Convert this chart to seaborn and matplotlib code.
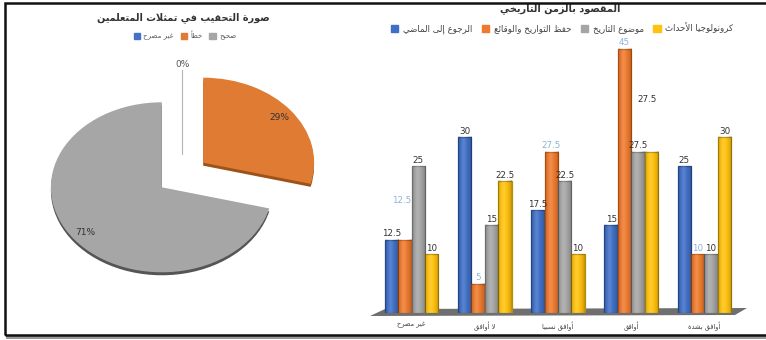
import unicodedata
import numpy as np
import pandas as pd
import matplotlib
matplotlib.use("Agg")
import matplotlib.pyplot as plt
from matplotlib.patches import Polygon, Rectangle, Patch
import seaborn as sns

# Pie data
pie_labels = ["غير مصرح", "خطأ", "صحيح"]
pie_values = [0, 29, 71]
pie_colors = ["#4472C4", "#E07B33", "#A6A6A6"]
pie_rim = ["#2F528F", "#9C5218", "#555555"]

# Bar data
categories = ["غير مصرح", "لا أوافق", "أوافق نسبيا", "أوافق", "أوافق بشدة"]
series_names = ["الرجوع إلى الماضي", "حفظ التواريخ والوقائع", "موضوع التاريخ", "كرونولوجيا الأحداث"]
past_values = [12.5, 30, 17.5, 15, 25]
facts_values = [12.5, 5, 27.5, 45, 10]
subject_values = [25, 15, 22.5, 27.5, 10]
chrono_values = [10, 22.5, 10, 27.5, 30]
bar_colors = ["#3F6FC6", "#EE7A2E", "#A5A5A5", "#FFC20E"]
bar_edges = ["#2A4F92", "#C25A12", "#7C7C7C", "#B58F0A"]
label_colors = ["#333333", "#8DB3D8", "#333333", "#333333"]

W, H = 766, 340
NON_JOINING = set("اأإآدذرزوةءى")
LAM_ALEF = {"ا": ("\uFEFB", "\uFEFC"), "أ": ("\uFEF7", "\uFEF8"),
            "إ": ("\uFEF9", "\uFEFA"), "آ": ("\uFEF5", "\uFEF6")}


def is_letter(ch):
    return ch is not None and "ARABIC LETTER" in unicodedata.name(ch, "")


def shape(text):
    """Join Arabic letters into presentation forms, in visual order."""
    out, i, prev_joins = [], 0, False
    while i < len(text):
        ch = text[i]
        if not is_letter(ch):
            out.append(ch)
            prev_joins = False
            i += 1
            continue
        nxt = text[i + 1] if i + 1 < len(text) else None
        if ch == "ل" and nxt in LAM_ALEF:
            out.append(LAM_ALEF[nxt][1 if prev_joins else 0])
            prev_joins = False
            i += 2
            continue
        joins_next = ch not in NON_JOINING and is_letter(nxt)
        form = {(True, True): " MEDIAL FORM", (True, False): " FINAL FORM",
                (False, True): " INITIAL FORM", (False, False): " ISOLATED FORM"}[(prev_joins, joins_next)]
        out.append(unicodedata.lookup(unicodedata.name(ch) + form))
        prev_joins = joins_next
        i += 1
    return "".join(reversed(out))


def fx(x):
    return x / W


def fy(y):
    return 1 - y / H


sns.set_theme(style="white")
plt.rcParams["font.family"] = ["DejaVu Sans"]
fig = plt.figure(figsize=(W / 100, H / 100), dpi=100, facecolor="white")

# Exploded, slightly flattened pie with a thin darker rim underneath
pie_ax = fig.add_axes([fx(5), fy(311), 355 / W, 272 / H])
explode = [0.236] * 3
rim_wedges, _ = pie_ax.pie(pie_values, explode=explode, colors=pie_rim, startangle=90,
                           counterclock=False, center=(0, -0.035), wedgeprops={"linewidth": 0})
wedges, _, pct_texts = pie_ax.pie(pie_values, explode=explode, colors=pie_colors, startangle=90,
                                  counterclock=False, autopct="%.0f%%", pctdistance=0.87,
                                  wedgeprops={"linewidth": 0},
                                  textprops={"fontsize": 6.5, "color": "#333333"})
rim_wedges[0].set_visible(False)
wedges[0].set(edgecolor="#B5B5B5", linewidth=0.8)
pct_texts[0].set_position((0, 1.3))
pct_texts[0].set_color("#555555")
pie_ax.set_aspect("auto")
pie_ax.set_xlim(-1.6, 1.6)
pie_ax.set_ylim(-1.6, 1.6)
pie_ax.patch.set_visible(False)

fig.text(fx(183), fy(18), shape("صورة التحقيب في تمثلات المتعلمين"), ha="center", va="center",
         fontsize=7, fontweight="bold", color="#333333")
fig.legend(handles=[Patch(color=c, label=shape(t)) for c, t in zip(pie_colors, pie_labels)],
           loc="center", bbox_to_anchor=(fx(185), fy(36)), ncol=3, frameon=False, fontsize=5,
           handlelength=0.9, handleheight=0.9, handletextpad=0.5, columnspacing=1.0,
           labelcolor="#555555")

# Grouped bars
bar_ax = fig.add_axes([fx(375), fy(313), 366 / W, 293.5 / H])
bar_ax.patch.set_visible(False)
table = pd.DataFrame({"category": [shape(c) for c in categories]})
for name, vals in zip(series_names, [past_values, facts_values, subject_values, chrono_values]):
    table[name] = vals
long_table = table.melt(id_vars="category", var_name="series", value_name="value")
sns.barplot(data=long_table, x="category", y="value", hue="series", palette=bar_colors,
            width=0.73, gap=0, saturation=1, legend=False, ax=bar_ax)
bar_ax.set_xlim(-0.5, 4.5)
bar_ax.set_ylim(0, 50)

# Rounded shading across each bar
shade = np.zeros((1, 32, 4))
t = np.linspace(0, 1, 32)
shade[0, :, 3] = np.clip(0.18 * np.abs(2 * t - 0.9) ** 2.2, 0, 0.22)
gloss = np.ones((1, 32, 4))
gloss[0, :, 3] = 0.14 * np.exp(-((t - 0.4) / 0.18) ** 2)
for s, container in enumerate(bar_ax.containers):
    for bar in container:
        bar.set(edgecolor=bar_edges[s], linewidth=0.9)
        box = (bar.get_x(), bar.get_x() + bar.get_width(), 0, bar.get_height())
        for layer in (shade, gloss):
            bar_ax.imshow(layer, extent=box, aspect="auto", zorder=3, interpolation="bilinear")
    bar_labels = bar_ax.bar_label(container, fmt="%g", padding=1, fontsize=6.3, color=label_colors[s], zorder=5)
    # Two labels sit well above their bars
    if s == 1:
        bar_labels[0].set_position((-2, 25))
    if s == 3:
        bar_labels[3].set_position((-3, 34))
bar_ax.set_xlim(-0.5, 4.5)
bar_ax.set_ylim(0, 50)
bar_ax.set_xlabel("")
bar_ax.set_ylabel("")
bar_ax.set_yticks([])
bar_ax.tick_params(axis="x", length=0, pad=6, labelsize=4.8, labelcolor="#444444")
sns.despine(ax=bar_ax, left=True, bottom=True)

fig.add_artist(Polygon([(fx(370), fy(316)), (fx(385), fy(309)), (fx(747), fy(308)), (fx(735), fy(315))],
                       closed=True, facecolor="#6F6F6F", edgecolor="none", zorder=-1, transform=fig.transFigure))

fig.text(fx(560), fy(9), shape("المقصود بالزمن التاريخي"), ha="center", va="center",
         fontsize=7, fontweight="bold", color="#333333")
fig.legend(handles=[Patch(color=c, label=shape(t)) for c, t in zip(bar_colors, series_names)],
           loc="center", bbox_to_anchor=(fx(562), fy(28)), ncol=4, frameon=False, fontsize=6.2,
           handlelength=0.9, handleheight=0.9, handletextpad=0.5, columnspacing=1.1,
           labelcolor="#444444")

# Black border running off the right side, with a soft shadow below it
fig.add_artist(Rectangle((fx(5), fy(335)), (W + 10) / W, 332 / H, fill=False, edgecolor="#111111",
                         linewidth=1.8, transform=fig.transFigure, zorder=6))
fig.add_artist(Rectangle((fx(6), fy(339)), (W - 6) / W, 3 / H, facecolor="#9A9A9A", edgecolor="none",
                         transform=fig.transFigure, zorder=5))

fig.savefig("out.png", dpi=100)
